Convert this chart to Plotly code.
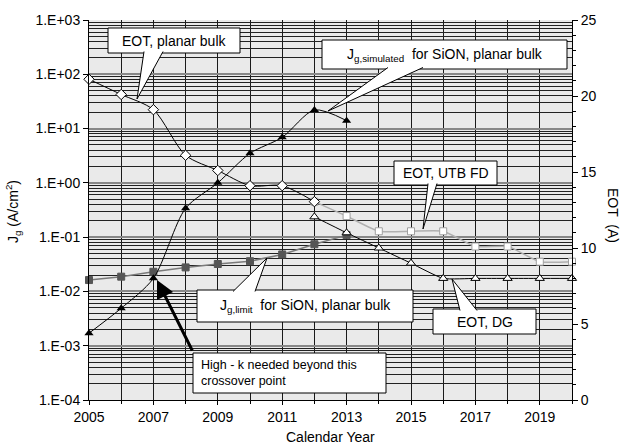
import plotly.graph_objects as go

# ---------------- data ----------------
years_jg = [2005, 2006, 2007, 2008, 2009, 2010, 2011, 2012, 2013]
jg_simulated = [1.7e-3, 4.9e-3, 0.0174, 0.34, 1.0, 3.5, 6.9, 22.0, 14.0]
jg_limit = [0.0162, 0.0187, 0.023, 0.0277, 0.032, 0.036, 0.048, 0.074, 0.109]

years_bulk = [2005, 2006, 2007, 2008, 2009, 2010, 2011, 2012]
eot_bulk = [21.1, 20.1, 19.1, 16.1, 15.1, 14.1, 14.1, 13.05]

years_new = [2012, 2013, 2014, 2015, 2016, 2017, 2018, 2019, 2020]
eot_utb = [13.05, 12.1, 11.1, 11.1, 11.1, 10.1, 10.1, 9.1, 9.1]
eot_dg = [12.05, 11.0, 10.0, 9.0, 8.0, 8.0, 8.0, 8.0, 8.0]

x_ticks = [2005, 2007, 2009, 2011, 2013, 2015, 2017, 2019]
y_ticks = [1e-4, 1e-3, 1e-2, 1e-1, 1e0, 1e1, 1e2, 1e3]
y_ticktext = ["1.E-04", "1.E-03", "1.E-02", "1.E-01", "1.E+00", "1.E+01", "1.E+02", "1.E+03"]
y2_ticks = [0, 5, 10, 15, 20, 25]

# ---------------- geometry helpers (layout only) ----------------
W, H = 621, 446
L, R, T, B = 89, 572, 20, 400


def px(xp):
    return (xp - L) / (R - L)


def py(yp):
    return (B - yp) / (B - T)


FONT = "Arial, Liberation Sans, sans-serif"

fig = go.Figure()

fig.add_trace(go.Scatter(
    x=years_jg, y=jg_limit, mode="lines+markers", name="Jg,limit",
    line=dict(color="#7a7a7a", width=1.5),
    marker=dict(symbol="square", size=7, color="#555555", line=dict(color="#555555", width=1)),
    cliponaxis=False))

fig.add_trace(go.Scatter(
    x=years_jg, y=jg_simulated, mode="lines+markers", name="Jg,simulated",
    line=dict(color="black", width=1, shape="spline", smoothing=0.8),
    marker=dict(symbol="triangle-up", size=8, color="black"),
    cliponaxis=False))

fig.add_trace(go.Scatter(
    x=years_new, y=eot_utb, mode="lines+markers", name="EOT UTB FD", yaxis="y2",
    line=dict(color="#b0b0b0", width=1.5, shape="spline", smoothing=0.5),
    marker=dict(symbol="square", size=7, color="white", line=dict(color="#a0a0a0", width=1)),
    cliponaxis=False))

fig.add_trace(go.Scatter(
    x=years_new, y=eot_dg, mode="lines+markers", name="EOT DG", yaxis="y2",
    line=dict(color="black", width=1, shape="spline", smoothing=0.5),
    marker=dict(symbol="triangle-up", size=8, color="white", line=dict(color="black", width=1)),
    cliponaxis=False))

fig.add_trace(go.Scatter(
    x=years_bulk, y=eot_bulk, mode="lines+markers", name="EOT planar bulk", yaxis="y2",
    line=dict(color="black", width=1, shape="spline", smoothing=0.8),
    marker=dict(symbol="diamond", size=8, color="white", line=dict(color="black", width=1)),
    cliponaxis=False))

# minor gridline values for log axis
minor_vals = []
for e in range(-4, 3):
    for k in range(2, 10):
        minor_vals.append(k * 10 ** e)

fig.update_layout(
    width=W, height=H,
    margin=dict(l=L, r=W - R, t=T, b=H - B, pad=0),
    paper_bgcolor="white",
    plot_bgcolor="#eaeaea",
    showlegend=False,
    font=dict(family=FONT, size=14, color="black"),
    xaxis=dict(
        range=[2005, 2020], tickmode="array", tickvals=x_ticks,
        showgrid=True, gridcolor="#1a1a1a", gridwidth=1,
        minor=dict(dtick=1, tick0=2005, showgrid=True, gridcolor="#1a1a1a", gridwidth=1,
                   ticks="outside", ticklen=3, tickcolor="black"),
        ticks="outside", ticklen=4, tickcolor="black",
        showline=True, linecolor="black", linewidth=1,
        zeroline=False, tickfont=dict(size=14),
    ),
    yaxis=dict(
        type="log", range=[-4, 3], tickmode="array", tickvals=y_ticks, ticktext=y_ticktext,
        showgrid=True, gridcolor="#888888", gridwidth=2,
        minor=dict(tickmode="array", tickvals=minor_vals, showgrid=True,
                   gridcolor="#222222", gridwidth=1),
        ticks="outside", ticklen=5, tickcolor="black",
        showline=True, linecolor="black", linewidth=1,
        zeroline=False, tickfont=dict(size=14),
    ),
    yaxis2=dict(
        overlaying="y", side="right", range=[0, 25], tickmode="array", tickvals=y2_ticks,
        showgrid=False, zeroline=False,
        minor=dict(dtick=1, tick0=0, ticks="outside", ticklen=3, tickcolor="black"),
        ticks="outside", ticklen=5, tickcolor="black",
        showline=True, linecolor="black", linewidth=1,
        tickfont=dict(size=14),
    ),
)

shapes = []
annotations = []


def callout(box, base, tip, text):
    x0, y0, x1, y1 = box
    shapes.append(dict(type="rect", xref="paper", yref="paper",
                       x0=px(x0), x1=px(x1), y0=py(y0), y1=py(y1),
                       fillcolor="white", line=dict(color="black", width=1), layer="above"))
    (bx1, by), (bx2, _) = base
    tx, ty = tip
    inward = 1.5 if ty > by else -1.5
    path = "M {} {} L {} {} L {} {}".format(px(bx1), py(by - inward), px(tx), py(ty),
                                          px(bx2), py(by - inward))
    shapes.append(dict(type="path", xref="paper", yref="paper", path=path,
                       fillcolor="white", line=dict(color="black", width=1), layer="above"))
    annotations.append(dict(xref="paper", yref="paper", x=px((x0 + x1) / 2), y=py((y0 + y1) / 2),
                            text=text, showarrow=False, xanchor="center", yanchor="middle",
                            font=dict(size=14, family=FONT)))


callout((108, 28, 240, 53), ((144, 53), (163, 53)), (137, 99), "EOT, planar bulk")
callout((322, 40, 567, 69), ((388, 69), (423, 69)), (328, 111),
        "J<sub>g,simulated</sub>  for SiON, planar bulk")
callout((394, 161, 497, 185), ((428, 185), (437, 185)), (423, 229), "EOT, UTB FD")
callout((197, 290, 413, 322), ((233, 290), (255, 290)), (267, 258),
        "J<sub>g,limit</sub>  for SiON, planar bulk")
callout((433, 309, 536, 334), ((460, 309), (477, 309)), (452, 279), "EOT, DG")

# High-k box (plain box, arrow separately)
shapes.append(dict(type="rect", xref="paper", yref="paper",
                   x0=px(193), x1=px(386), y0=py(353), y1=py(393),
                   fillcolor="white", line=dict(color="black", width=1), layer="above"))
annotations.append(dict(xref="paper", yref="paper", x=px(199), y=py(373),
                        text="High - k needed beyond this<br>crossover point", showarrow=False,
                        xanchor="left", yanchor="middle", align="left",
                        font=dict(size=12.5, family=FONT)))
annotations.append(dict(xref="paper", yref="paper", x=px(157), y=py(280), text="",
                        showarrow=True, axref="pixel", ayref="pixel", ax=36, ay=72,
                        arrowhead=2, arrowsize=1.2, arrowwidth=3, arrowcolor="black",
                        standoff=0))

# axis titles
annotations.append(dict(xref="paper", yref="paper", x=px(330), y=py(437),
                        text="Calendar Year", showarrow=False, xanchor="center", yanchor="middle",
                        font=dict(size=14, family=FONT)))
annotations.append(dict(xref="paper", yref="paper", x=px(13), y=py(212),
                        text="J<sub>g</sub> (A/cm<sup>2</sup>)", showarrow=False, textangle=-90,
                        xanchor="center", yanchor="middle", font=dict(size=14, family=FONT)))
annotations.append(dict(xref="paper", yref="paper", x=px(613), y=py(215),
                        text="EOT  (A)", showarrow=False, textangle=90,
                        xanchor="center", yanchor="middle", font=dict(size=14, family=FONT)))

fig.update_layout(shapes=shapes, annotations=annotations)

fig.write_html(
    "out.html",
    config={"displayModeBar": False, "staticPlot": True},
    post_script="document.body.style.margin='0';document.body.style.padding='0';"
                "document.body.style.overflow='hidden';",
)
